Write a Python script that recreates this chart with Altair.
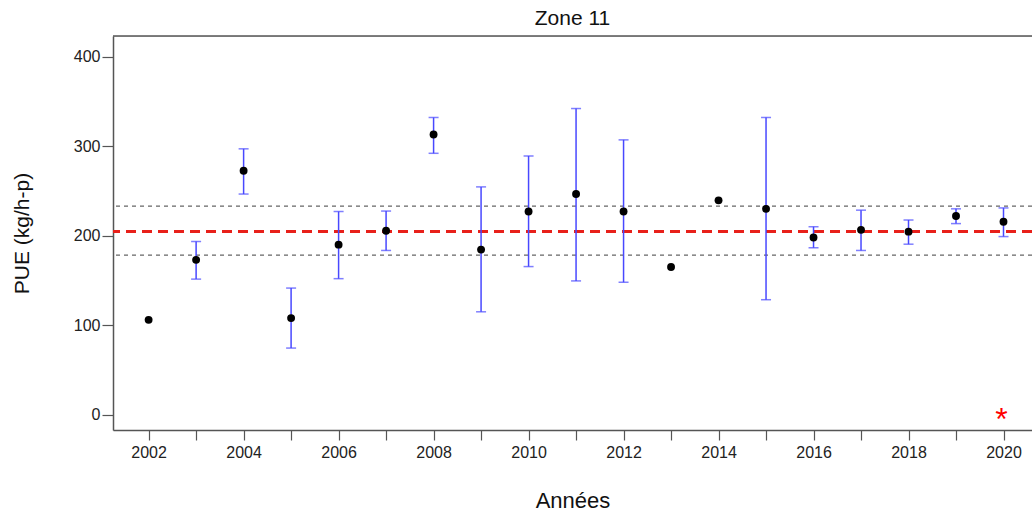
import altair as alt
import pandas as pd

years = list(range(2002, 2021))
pue = [106, 173, 272.5, 108, 190, 205.5, 313, 184.5, 227, 246.5, 227, 165, 239.5, 230, 198, 206.5, 204.5, 222, 215.5]
ci_low = [None, 151.5, 246.5, 74.5, 152, 183.5, 292, 115, 165.5, 149.5, 148, None, None, 128.5, 186.5, 183.5, 190.5, 213.5, 199]
ci_high = [None, 193.5, 297, 141.5, 227, 227.5, 332, 254.5, 289, 342, 307, None, None, 332, 210, 228.5, 217.5, 230, 231]

ref_mean = [204.6]
ref_band = [178.2, 233.0]
star_year = [2020]
star_value = [0]

df = pd.DataFrame({"year": years, "pue": pue, "lo": ci_low, "hi": ci_high})
df_err = df.dropna()

X0, X1 = 2001.25, 2020.6
Y0, Y1 = -17, 423

xs = alt.Scale(domain=[X0, X1], nice=False, zero=False)
ys = alt.Scale(domain=[Y0, Y1], nice=False, zero=False)

xaxis = alt.Axis(
    values=years, format="d",
    labelExpr="datum.value % 2 == 0 ? datum.label : ''",
    tickSize=10, tickColor="#555", domainColor="#555", domainWidth=1.5, tickWidth=1.2,
    labelFont="Liberation Sans", labelFontSize=16, labelColor="#222", labelPadding=4,
    grid=False, title="Années", titleFont="Liberation Sans", titleFontSize=22,
    titleFontWeight="normal", titleColor="#111", titlePadding=30,
)
yaxis = alt.Axis(
    values=[0, 100, 200, 300, 400],
    tickSize=11, tickColor="#555", domainColor="#555", domainWidth=1.5, tickWidth=1.2,
    labelFont="Liberation Sans", labelFontSize=16, labelColor="#222", labelPadding=2,
    grid=False, title="PUE (kg/h-p)", titleFont="Liberation Sans", titleFontSize=21,
    titleFontWeight="normal", titleColor="#111", titlePadding=41,
)

base = alt.Chart(df)

points = base.mark_point(filled=True, color="black", size=62, opacity=1).encode(
    x=alt.X("year:Q", scale=xs, axis=xaxis),
    y=alt.Y("pue:Q", scale=ys, axis=yaxis),
)

err = alt.Chart(df_err)
bars = err.mark_rule(color="#4848ff", strokeWidth=1.5).encode(
    x=alt.X("year:Q", scale=xs), y=alt.Y("lo:Q", scale=ys), y2="hi:Q"
)
cap_hi = err.mark_tick(color="#4848ff", thickness=1.5, size=10, orient="horizontal").encode(
    x=alt.X("year:Q", scale=xs), y=alt.Y("hi:Q", scale=ys)
)
cap_lo = err.mark_tick(color="#4848ff", thickness=1.5, size=10, orient="horizontal").encode(
    x=alt.X("year:Q", scale=xs), y=alt.Y("lo:Q", scale=ys)
)

mean_line = alt.Chart(pd.DataFrame({"v": ref_mean})).mark_rule(
    color="#e8201a", strokeWidth=3, strokeDash=[10, 6]
).encode(y=alt.Y("v:Q", scale=ys))

band_lines = alt.Chart(pd.DataFrame({"v": ref_band})).mark_rule(
    color="#666", strokeWidth=1.3, strokeDash=[4, 4]
).encode(y=alt.Y("v:Q", scale=ys))

top_line = alt.Chart(pd.DataFrame({"v": [Y1]})).mark_rule(
    color="#555", strokeWidth=1.5
).encode(y=alt.Y("v:Q", scale=ys))

star = alt.Chart(pd.DataFrame({"year": star_year, "v": star_value})).mark_text(
    text="*", color="red", fontSize=32, font="Liberation Sans", baseline="middle", dy=5, dx=-2
).encode(x=alt.X("year:Q", scale=xs), y=alt.Y("v:Q", scale=ys))

chart = alt.layer(
    band_lines, mean_line, bars, cap_hi, cap_lo, points, star, top_line
).properties(
    width=919, height=394,
    title=alt.TitleParams("Zone 11", font="Liberation Sans", fontSize=21, fontWeight="normal",
                          color="#111", offset=6),
    autosize=alt.AutoSizeParams(type="none"),
    padding={"left": 113, "top": 36, "right": 0, "bottom": 84},
).configure_view(stroke=None).configure(background="white")

chart.save("out.html", embed_options={"renderer": "svg", "actions": False})
